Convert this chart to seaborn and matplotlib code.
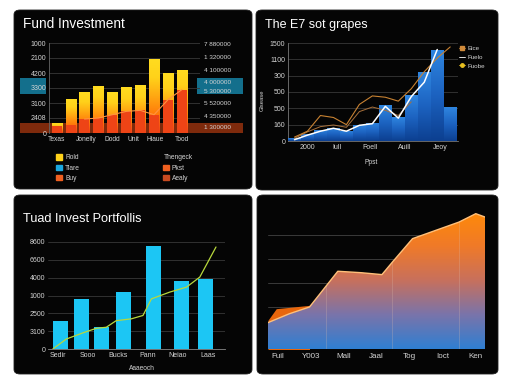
import numpy as np
import matplotlib
matplotlib.use('Agg')
import matplotlib.pyplot as plt
import seaborn as sns
from matplotlib.colors import LinearSegmentedColormap
from matplotlib.patches import FancyBboxPatch, Rectangle, PathPatch, Patch
from matplotlib.lines import Line2D

sns.set_theme(style='dark')
plt.rcParams['font.family'] = ['Liberation Sans', 'DejaVu Sans']

# ── Data ─────────────────────────────────────────────────────────────────────
# Panel 1 : Fund Investment
fund_x = list(range(10))
fund_total = [670, 2270, 2750, 3160, 2710, 3040, 3180, 4930, 3980, 4200]
fund_base = [450, 560, 930, 1000, 1220, 1440, 1510, 1220, 2220, 2890]
fund_yticks = [0, 1000, 2000, 3000, 4000, 5000, 6000]
fund_yticklabels = ['0', '2408', '3100', '3300', '4200', '2100', '1000']
fund_rticks = [400, 1130, 2000, 2800, 3400, 4200, 5070, 5930]
fund_rticklabels = ['1 300000', '4 350000', '5 520000', '5 300000', '4 000000',
                    '4 100000', '1 320000', '7 880000']
fund_xtick_pos = [0, 2.1, 4, 5.5, 7.1, 9]
fund_xticklabels = ['Texas', 'Jonelly', 'Dodd', 'Unit', 'Hiaue', 'Tood']
fund_legend_a = ['Rold', 'Tiare', 'Buy']
fund_legend_b = ['Pkst', 'Aealy']

# Panel 2 : The E7 sot grapes
e7_x = list(range(13))
e7_bars = [40, 110, 170, 200, 155, 250, 280, 550, 360, 700, 1060, 1400, 515]
e7_white = [20, 90, 150, 195, 150, 240, 265, 530, 350, 680, 900, 1400]
e7_line_a = [60, 150, 390, 360, 250, 560, 690, 670, 610, 800, 1060, 1270, 1440]
e7_line_b = [40, 140, 220, 245, 210, 450, 520, 470, 390, 600]
e7_yticks = [0, 250, 500, 750, 1000, 1250, 1500]
e7_yticklabels = ['0', '160', '500', '500', '300', '1100', '1500']
e7_xtick_pos = [1, 3.3, 5.8, 8.5, 11.2]
e7_xticklabels = ['2000', 'Iull', 'Foell', 'Auill', 'Jeoy']
e7_legend = ['Eice', 'Fuelo', 'Fuobe']

# Panel 3 : Tuad Invest Portfollis
port_pos = [0.08, 0.8, 1.46, 2.19, 3.17, 4.11, 4.91]
port_vals = [1590, 2810, 1220, 3190, 5760, 3790, 3940]
port_line_x = [-0.17, 0.28, 0.89, 1.28, 1.61, 1.94, 2.44, 2.83, 3.11, 3.72, 4.28, 4.72, 5.26]
port_line_y = [0, 560, 940, 1160, 1220, 1590, 1690, 1880, 2810, 3190, 3470, 4030, 5720]
port_yticks = [0, 1000, 2000, 3000, 4000, 5000, 6000]
port_yticklabels = ['0', '3100', '2500', '1000', '4000', '6600', '8600']
port_xticklabels = ['Sedir', 'Sooo', 'Bucks', 'Pann', 'Neiao', 'Laas']

# Panel 4 : area chart
area_x = [-0.3, 0.35, 0.96, 1.82, 2.53, 3.16, 3.48, 4.09, 5.5, 6.01, 6.29]
area_y = [1.35, 1.72, 2.0, 3.49, 3.43, 3.35, 3.875, 4.85, 5.54, 5.89, 5.75]
area2_x = [-0.3, -0.05, 0.96]
area2_y = [1.45, 1.93, 2.07]
area_xticklabels = ['Fuil', 'Y003', 'Mall', 'Jaal', 'Tog', 'Ioct', 'Ken']

# ── Helpers ──────────────────────────────────────────────────────────────────
W, H = 512, 384
TXT = '#d4d4d4'
GRID = '#383838'
PANEL = '#050505'

fig = plt.figure(figsize=(W / 100, H / 100), dpi=100, facecolor='white')


def fbox(l, t, r, b):
    return [l / W, 1 - b / H, (r - l) / W, (b - t) / H]


def add_axes(l, t, r, b):
    ax = fig.add_axes(fbox(l, t, r, b))
    ax.set_facecolor('none')
    for s in ax.spines.values():
        s.set_visible(False)
    ax.tick_params(length=0, labelsize=5, colors=TXT, pad=2)
    return ax


def gradient_fill(ax, patch, cmap, y0, y1, zorder):
    grad = np.linspace(0, 1, 256).reshape(-1, 1)
    x = patch.get_x()
    im = ax.imshow(grad, extent=[x, x + patch.get_width(), y0, y1], origin='lower',
                   aspect='auto', cmap=cmap, zorder=zorder)
    im.set_clip_path(patch)
    patch.set_facecolor('none')


# Panels
for l, t, r, b in [(14, 10, 252, 189), (256, 10, 498, 190), (14, 195, 252, 374), (257, 195, 498, 374)]:
    x, y, w, h = fbox(l, t, r, b)
    fig.add_artist(FancyBboxPatch((x, y), w, h, boxstyle='round,pad=0,rounding_size=0.012',
                                  transform=fig.transFigure, facecolor=PANEL,
                                  edgecolor='#202020', lw=0.6, zorder=-2))

# highlight bands in panel 1
for (l, t, r, b), c in [((20, 78, 46, 94), '#136f8c'), ((197, 78, 243, 94), '#136f8c'),
                        ((20, 123, 243, 133), '#7e2a0c')]:
    x, y, w, h = fbox(l, t, r, b)
    fig.add_artist(Rectangle((x, y), w, h, transform=fig.transFigure, facecolor=c,
                             edgecolor='none', zorder=-1))

# ── Panel 1 ──────────────────────────────────────────────────────────────────
ax1 = add_axes(49, 43, 200, 133)
sns.barplot(x=fund_x, y=fund_total, ax=ax1, width=0.72, color='#ff9a10', saturation=1,
            edgecolor='none', linewidth=0, zorder=3)
fire = LinearSegmentedColormap.from_list('fire', ['#f0401a', '#ff7a0a', '#ffa812', '#ffd21a', '#ffdc20'])
for p in list(ax1.patches):
    gradient_fill(ax1, p, fire, p.get_y(), p.get_y() + p.get_height(), 3)
sns.barplot(x=fund_x, y=fund_base, ax=ax1, width=0.72, color='#ee4416', saturation=1,
            edgecolor='none', linewidth=0, zorder=4)
sns.lineplot(x=fund_x[2:], y=fund_base[2:], ax=ax1, color='#ff9440', lw=0.8, zorder=5)
ax1.set_xlim(-0.55, 10.3)
ax1.set_ylim(0, 6000)
ax1.set_yticks(fund_yticks, fund_yticklabels)
ax1.set_xticks(fund_xtick_pos, fund_xticklabels)
ax1.tick_params(axis='x', labelsize=4.8)
ax1.grid(axis='y', color=GRID, lw=0.6)
ax1.set_axisbelow(True)
ax1.spines['left'].set_visible(True)
ax1.spines['left'].set_color('#666666')
ax1.spines['left'].set_linewidth(0.6)
ax1r = ax1.twinx()
ax1r.set_facecolor('none')
for s in ax1r.spines.values():
    s.set_visible(False)
ax1r.set_ylim(0, 6000)
ax1r.set_yticks(fund_rticks, fund_rticklabels)
ax1r.tick_params(length=0, labelsize=4.6, colors=TXT, pad=3)
ax1r.grid(False)

leg_a = ax1.legend(handles=[Patch(color=c, label=l) for c, l in
                            zip(['#ffd21a', '#1aa8e0', '#f06020'], fund_legend_a)],
                   loc='upper left', bbox_to_anchor=(53 / W, 1 - 151 / H), bbox_transform=fig.transFigure,
                   frameon=False, fontsize=4.8, labelcolor=TXT, handlelength=0.8, handleheight=0.8,
                   handletextpad=0.5, labelspacing=0.5, borderpad=0)
ax1.add_artist(leg_a)
ax1.legend(handles=[Patch(color=c, label=l) for c, l in zip(['#f06020', '#c84a20'], fund_legend_b)],
           title='Thengeck', title_fontsize=4.8, alignment='left',
           loc='upper left', bbox_to_anchor=(160 / W, 1 - 151 / H), bbox_transform=fig.transFigure,
           frameon=False, fontsize=4.8, labelcolor=TXT, handlelength=0.8, handleheight=0.8,
           handletextpad=0.5, labelspacing=0.5, borderpad=0)
ax1.get_legend().get_title().set_color(TXT)
fig.text(23 / W, 1 - 24 / H, 'Fund Investment', fontsize=9.8, color='white', va='center')

# ── Panel 2 ──────────────────────────────────────────────────────────────────
ax2 = add_axes(288, 43, 458, 141)
sns.barplot(x=e7_x, y=e7_bars, ax=ax2, width=0.94, color='#1f68c8', saturation=1,
            edgecolor=PANEL, linewidth=0.5, zorder=3)
blue = LinearSegmentedColormap.from_list('blue', ['#0c3f90', '#1c62c0', '#2f86e0'])
for p in list(ax2.patches):
    gradient_fill(ax2, p, blue, p.get_y(), p.get_y() + p.get_height(), 3)
sns.lineplot(x=e7_x[:len(e7_line_b)], y=e7_line_b, ax=ax2, color='#a8703a', lw=0.7, zorder=4)
sns.lineplot(x=e7_x, y=e7_line_a, ax=ax2, color='#c88232', lw=0.8, zorder=4)
sns.lineplot(x=e7_x[:len(e7_white)], y=e7_white, ax=ax2, color='white', lw=1.1, zorder=5)
ax2.set_xlim(-0.5, 12.6)
ax2.set_ylim(0, 1500)
ax2.set_yticks(e7_yticks, e7_yticklabels)
ax2.set_xticks(e7_xtick_pos, e7_xticklabels)
ax2.grid(axis='y', color=GRID, lw=0.6)
ax2.set_axisbelow(True)
for s in ['left', 'bottom']:
    ax2.spines[s].set_visible(True)
    ax2.spines[s].set_color('#777777')
    ax2.spines[s].set_linewidth(0.6)
ax2.legend(handles=[Line2D([], [], color='#d08a3a', marker='s', ms=2.5, lw=0.6, label=e7_legend[0]),
                    Line2D([], [], color='white', lw=0.6, label=e7_legend[1]),
                    Line2D([], [], color='#e8c020', marker='o', ms=2.5, lw=0.6, label=e7_legend[2])],
           loc='upper left', bbox_to_anchor=(456 / W, 1 - 43 / H), bbox_transform=fig.transFigure,
           frameon=False, fontsize=4.5, labelcolor=TXT, handlelength=1.0, handletextpad=0.3,
           labelspacing=0.5, borderpad=0)
fig.text(265 / W, 1 - 25 / H, 'The E7 sot grapes', fontsize=9, color='white', va='center')
fig.text(262 / W, 1 - 100 / H, 'Glsease', fontsize=4.2, color=TXT, rotation=90, va='center', ha='center')
fig.text(371 / W, 1 - 162 / H, 'Ppst', fontsize=4.8, color=TXT, va='center', ha='center')

# ── Panel 3 ──────────────────────────────────────────────────────────────────
ax3 = add_axes(48, 242, 225, 349)
sns.barplot(x=port_pos, y=port_vals, ax=ax3, native_scale=True,
            width=0.5 / np.min(np.diff(port_pos)), color='#1cc6f4', saturation=1,
            edgecolor='none', linewidth=0, zorder=3)
sns.lineplot(x=port_line_x, y=port_line_y, ax=ax3, color='#b8d83c', lw=0.9, zorder=4)
ax3.set_xlim(-0.33, 5.56)
ax3.set_ylim(0, 6000)
ax3.set_yticks(port_yticks, port_yticklabels)
ax3.set_xticks(range(len(port_xticklabels)), port_xticklabels)
ax3.grid(axis='y', color=GRID, lw=0.6)
ax3.set_axisbelow(True)
ax3.spines['bottom'].set_visible(True)
ax3.spines['bottom'].set_color('#888888')
ax3.spines['bottom'].set_linewidth(0.6)
fig.text(23 / W, 1 - 219 / H, 'Tuad Invest Portfollis', fontsize=9.2, color='white', va='center')
fig.text(142 / W, 1 - 369 / H, 'Aaaeoch', fontsize=4.8, color=TXT, va='center', ha='center')

# ── Panel 4 ──────────────────────────────────────────────────────────────────
ax4 = add_axes(268, 200, 485, 349)
for v in [2, 3, 4, 5]:
    ax4.axhline(v, color='#3a3a3a', lw=0.7, zorder=1)
ax4.fill_between(area2_x, area2_y, 0, color='#e8660c', lw=0, zorder=2)
shape = ax4.fill_between(area_x, area_y, 0, color='none', lw=0, zorder=3)
clip = PathPatch(shape.get_paths()[0], transform=ax4.transData, facecolor='none', edgecolor='none')
ax4.add_patch(clip)
sunset = LinearSegmentedColormap.from_list('sunset', ['#2f7fd2', '#7a74aa', '#c8705c', '#f07a28', '#ff8a08'])
grad = np.linspace(0, 1, 256).reshape(-1, 1)
im = ax4.imshow(grad, extent=[min(area_x), max(area_x), 0.25, 6.0], origin='lower',
                aspect='auto', cmap=sunset, zorder=3)
im.set_clip_path(clip)
for xv in [1.46, 3.48, 5.5]:
    ln = ax4.axvline(xv, color='#e0c0b0', lw=0.5, alpha=0.35, zorder=4)
    ln.set_clip_path(clip)
sns.lineplot(x=area_x, y=area_y, ax=ax4, color='#ffc07a', lw=1.0, zorder=5)
ax4.set_xlim(-0.3, 6.29)
ax4.set_ylim(0.25, 6.46)
ax4.set_yticks([])
ax4.set_xticks(range(len(area_xticklabels)), area_xticklabels)
ax4.tick_params(axis='x', labelsize=5.8, pad=3)
ax4.grid(False)

fig.savefig('out.png', dpi=100, facecolor='white')
